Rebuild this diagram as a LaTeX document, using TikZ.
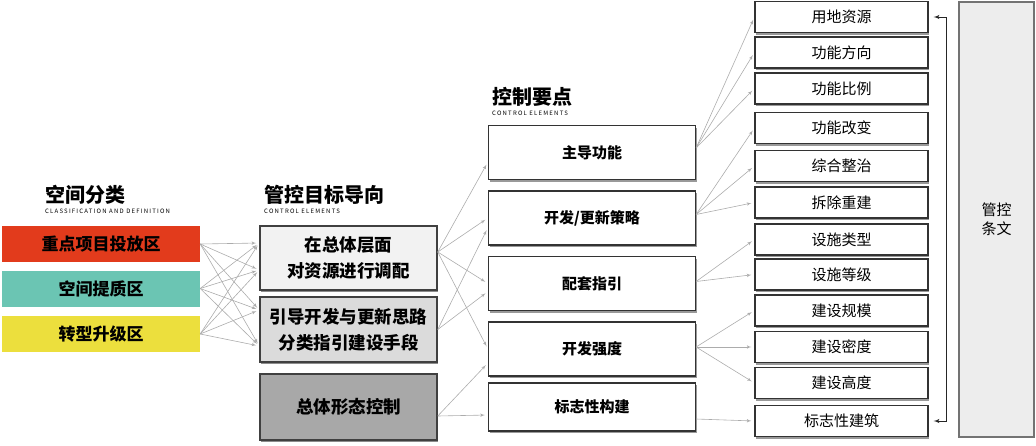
\documentclass[tikz,border=0pt]{standalone}
\usepackage{fontspec}
\setmainfont{Noto Sans CJK SC}
\usepackage{xcolor}
\usepackage{tikz}
\usetikzlibrary{shapes,arrows,shadows}
\definecolor{zonered}{HTML}{E23B1C}
\definecolor{zoneteal}{HTML}{6BC5B3}
\definecolor{zoneyellow}{HTML}{ECDF3D}

\begin{document}
\begin{tikzpicture}[x=1pt, y=-1pt, auto]
	\tikzstyle{zone} = [rectangle, inner sep=0pt, minimum width=198pt, minimum height=36pt,
	font=\fontsize{17}{19}\selectfont\bfseries]
	\tikzstyle{goal} = [rectangle, draw=black!75, line width=1.5pt, inner sep=0pt,
	minimum width=177pt, text width=172pt, align=center, font=\fontsize{17.5}{26}\selectfont\bfseries,
	drop shadow={shadow xshift=1pt, shadow yshift=-2pt, fill=black!45, opacity=1}]
	\tikzstyle{ctrl} = [rectangle, draw=black!80, line width=1.2pt, fill=white, inner sep=0pt,
	minimum width=207pt, minimum height=54pt, font=\fontsize{15}{17}\selectfont\bfseries,
	drop shadow={shadow xshift=1pt, shadow yshift=-2pt, fill=black!40, opacity=1}]
	\tikzstyle{item} = [rectangle, draw=black!80, line width=1.2pt, fill=white, inner sep=0pt,
	minimum width=173pt, minimum height=31pt, font=\fontsize{15}{17}\selectfont,
	drop shadow={shadow xshift=1pt, shadow yshift=-2pt, fill=black!40, opacity=1}]
	\tikzstyle{title} = [anchor=west, inner sep=0pt, font=\fontsize{20}{22}\selectfont\bfseries]
	\tikzstyle{subtitle} = [anchor=west, inner sep=0pt,
	font=\fontsize{6}{7}\selectfont\addfontfeatures{LetterSpace=20}]
	\tikzstyle{link} = [draw, -latex', gray!65, line width=0.6pt, shorten >=3pt]
	\useasboundingbox (0,0) rectangle (1036,445);
	% Place titles
	\node [title] (t1) at (45,195) {空间分类};
	\node [subtitle] (s1) at (45,211) {CLASSIFICATION AND DEFINITION};
	\node [title] (t2) at (264,195) {管控目标导向};
	\node [subtitle] (s2) at (264,211) {CONTROL ELEMENTS};
	\node [title] (t3) at (492,97) {控制要点};
	\node [subtitle] (s3) at (492,113) {CONTROL ELEMENTS};
	% Place nodes
	\node [zone, fill=zonered] (za) at (101,244) {重点项目投放区};
	\node [zone, fill=zoneteal, below of=za, node distance=44.5pt] (zb) {空间提质区};
	\node [zone, fill=zoneyellow, below of=zb, node distance=45.5pt] (zc) {转型升级区};
	\node [goal, fill=black!5, minimum height=64pt] (g1) at (348.5,258) {在总体层面\\对资源进行调配};
	\node [goal, fill=black!14, minimum height=65pt, below of=g1, node distance=71.5pt] (g2) {引导开发与更新思路\\分类指引建设手段};
	\node [goal, fill=black!34, minimum height=66pt, below of=g2, node distance=77.5pt] (g3) {总体形态控制};
	\node [ctrl] (c1) at (592,152.5) {主导功能};
	\node [ctrl, below of=c1, node distance=65.5pt] (c2) {开发/更新策略};
	\node [ctrl, below of=c2, node distance=65.5pt] (c3) {配套指引};
	\node [ctrl, below of=c3, node distance=65.5pt] (c4) {开发强度};
	\node [ctrl, minimum height=48pt, below of=c4, node distance=58pt] (c5) {标志性构建};
	\node [item] (e1) at (841.5,17) {用地资源};
	\node [item, below of=e1, node distance=35.5pt] (e2) {功能方向};
	\node [item, below of=e2, node distance=36pt] (e3) {功能比例};
	\node [item, below of=e3, node distance=39.5pt] (e4) {功能改变};
	\node [item, below of=e4, node distance=38pt] (e5) {综合整治};
	\node [item, below of=e5, node distance=36.5pt] (e6) {拆除重建};
	\node [item, below of=e6, node distance=37pt] (e7) {设施类型};
	\node [item, below of=e7, node distance=35pt] (e8) {设施等级};
	\node [item, below of=e8, node distance=36pt] (e9) {建设规模};
	\node [item, below of=e9, node distance=36.5pt] (e10) {建设密度};
	\node [item, below of=e10, node distance=36pt] (e11) {建设高度};
	\node [item, below of=e11, node distance=38pt] (e12) {标志性建筑};
	\node [rectangle, draw=black!55, line width=1.2pt, fill=black!7, minimum width=75pt, minimum height=435pt,
	align=center, font=\fontsize{15}{19}\selectfont] (tw) at (996.5,219.5) {管控\\条文};
	% Draw edges
	\foreach \s in {za,zb,zc}
		\foreach \t/\dy in {g1/15,g1/-12,g2/19.5,g2/-16.5}
			\path [link] (\s.east) -- ([yshift=\dy pt]\t.west);
	\path [link] ([yshift=6pt]g1.east) -- ([yshift=-9.5pt]c1.west);
	\path [link] ([yshift=6pt]g1.east) -- (c2.west);
	\path [link] ([yshift=6pt]g1.east) -- (c3.west);
	\path [link] ([yshift=6pt]g1.east) -- (c4.west);
	\path [link] (g2.east) -- ([yshift=-9.5pt]c2.west);
	\path [link] (g2.east) -- ([yshift=-8pt]c3.west);
	\path [link] ([yshift=-9pt]g3.east) -- ([yshift=-14pt]c4.west);
	\path [link] ([yshift=-9pt]g3.east) -- ([yshift=-8pt]c5.west);
	\path [link] ([yshift=4.5pt]c1.east) -- (e1.west);
	\path [link] ([yshift=4.5pt]c1.east) -- (e2.west);
	\path [link] ([yshift=4.5pt]c1.east) -- (e3.west);
	\path [link] ([yshift=3.5pt]c2.east) -- (e4.west);
	\path [link] ([yshift=3.5pt]c2.east) -- (e5.west);
	\path [link] ([yshift=3.5pt]c2.east) -- (e6.west);
	\path [link] ([yshift=2pt]c3.east) -- (e7.west);
	\path [link] ([yshift=2pt]c3.east) -- (e8.west);
	\path [link] ([yshift=2pt]c4.east) -- (e9.west);
	\path [link] ([yshift=2pt]c4.east) -- (e10.west);
	\path [link] ([yshift=2pt]c4.east) -- (e11.west);
	\path [link] ([yshift=-12pt]c5.east) -- (e12.west);
	\draw [latex'-latex', black!85, line width=1pt, shorten <=5pt, shorten >=5pt]
		(e1.east) -- ++(18,0) |- (e12.east);
\end{tikzpicture}
\end{document}
